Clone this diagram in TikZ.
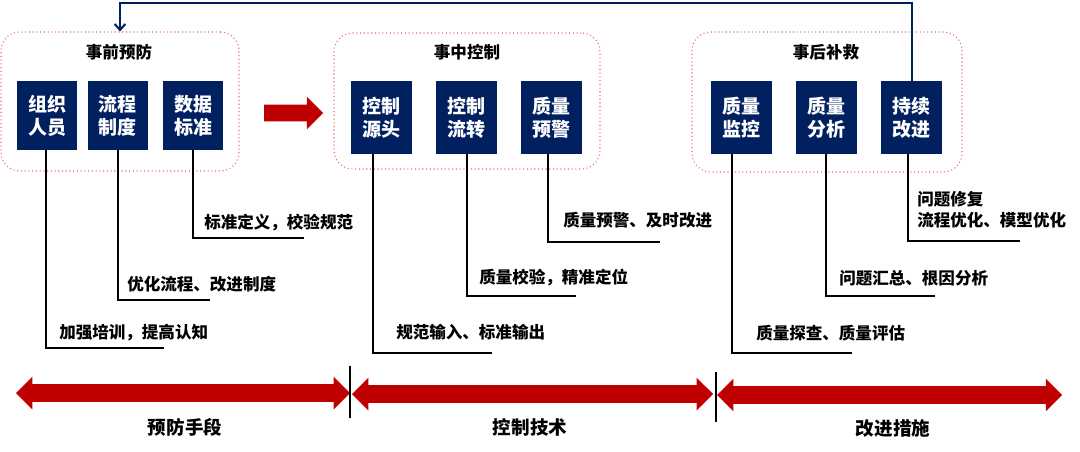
\documentclass[tikz,border=0pt]{standalone}
\usepackage{fontspec}
\setmainfont{Noto Sans CJK SC}
\usetikzlibrary{shapes.arrows,arrows.meta}
\definecolor{navy}{RGB}{0,32,96}
\definecolor{darkred}{RGB}{192,0,0}
\definecolor{pinkline}{RGB}{228,108,108}

\begin{document}
\begin{tikzpicture}[x=0.75pt, y=-0.75pt,
  grp/.style={rectangle, draw=pinkline, dotted, line width=0.8pt, rounded corners=14pt},
  box/.style={rectangle, fill=navy, text=white, align=center, inner sep=0pt,
    font=\fontsize{14.25}{17.25}\selectfont\bfseries},
  ttl/.style={font=\fontsize{12.4}{15}\selectfont\bfseries},
  lbl/.style={anchor=west, inner sep=0pt, align=left,
    font=\fontsize{12.4}{15.75}\selectfont\bfseries},
  con/.style={draw=black, line width=1.5pt},
  fb/.style={draw=navy, line width=1.5pt, -{Straight Barb[length=4.5pt,width=8pt]}},
  bar/.style={double arrow, fill=darkred, inner xsep=0pt, inner ysep=6.4pt,
    double arrow head extend=5.6pt},
  seg/.style={font=\fontsize{13.9}{16}\selectfont\bfseries}]
\useasboundingbox (0,0) rectangle (1080,451);

% three stages
\node[grp, minimum width=178.5pt, minimum height=104.25pt] (g1) at (120,101.5) {};
\node[grp, minimum width=199.5pt, minimum height=102pt] (g2) at (467,101) {};
\node[grp, minimum width=202.5pt, minimum height=105pt] (g3) at (827,102) {};
\node[ttl] (t1) at (119,52) {事前预防};
\node[ttl] (t2) at (467,52) {事中控制};
\node[ttl] (t3) at (826,52) {事后补救};

\node[box, minimum width=45pt, minimum height=51.75pt] (b11) at (47,115.5) {组织\\人员};
\node[box, minimum width=45pt, minimum height=51.75pt] (b12) at (117.5,115.5) {流程\\制度};
\node[box, minimum width=45pt, minimum height=51.75pt] (b13) at (193,115.5) {数据\\标准};
\node[box, minimum width=45.75pt, minimum height=54.75pt] (b21) at (381.5,117.5) {控制\\源头};
\node[box, minimum width=45.75pt, minimum height=54.75pt] (b22) at (466.5,117.5) {控制\\流转};
\node[box, minimum width=45.75pt, minimum height=54.75pt] (b23) at (551.5,117.5) {质量\\预警};
\node[box, minimum width=45.75pt, minimum height=54.75pt] (b31) at (741,117.5) {质量\\监控};
\node[box, minimum width=45.75pt, minimum height=54.75pt] (b32) at (826,117.5) {质量\\分析};
\node[box, minimum width=45.75pt, minimum height=54.75pt] (b33) at (911.5,117.5) {持续\\改进};

\node[single arrow, fill=darkred, inner xsep=0pt, inner ysep=6pt,
  single arrow head extend=6pt, minimum height=44.25pt] (go) at (289.5,113) {};

% feedback
\coordinate (top) at (500,3);
\draw[fb] (b33.north) |- (top) -| (g1.north);

% labels
\node[lbl] (l11) at (59,333) {加强培训，提高认知};
\node[lbl] (l12) at (127,284) {优化流程、改进制度};
\node[lbl] (l13) at (204,223) {标准定义，校验规范};
\node[lbl] (l21) at (396,332) {规范输入、标准输出};
\node[lbl] (l22) at (479,278) {质量校验，精准定位};
\node[lbl] (l23) at (563,220) {质量预警、及时改进};
\node[lbl] (l31) at (756,333) {质量探查、质量评估};
\node[lbl] (l32) at (839,278) {问题汇总、根因分析};
\node[lbl] (l33) at (917,210) {问题修复\\流程优化、模型优化};

\coordinate (k11) at (46,348);  \coordinate (e11) at (164,348);
\coordinate (k12) at (118,300); \coordinate (e12) at (210,300);
\coordinate (k13) at (193,238); \coordinate (e13) at (304,238);
\coordinate (k21) at (373,353); \coordinate (e21) at (492,353);
\coordinate (k22) at (467,296); \coordinate (e22) at (576,296);
\coordinate (k23) at (548,242); \coordinate (e23) at (660,242);
\coordinate (k31) at (732,353); \coordinate (e31) at (852,353);
\coordinate (k32) at (826,296); \coordinate (e32) at (935,296);
\coordinate (k33) at (908,241); \coordinate (e33) at (1020,241);
\draw[con] (k11 |- b11.south) -- (k11) -- (e11);
\draw[con] (k12 |- b12.south) -- (k12) -- (e12);
\draw[con] (k13 |- b13.south) -- (k13) -- (e13);
\draw[con] (k21 |- b21.south) -- (k21) -- (e21);
\draw[con] (k22 |- b22.south) -- (k22) -- (e22);
\draw[con] (k23 |- b23.south) -- (k23) -- (e23);
\draw[con] (k31 |- b31.south) -- (k31) -- (e31);
\draw[con] (k32 |- b32.south) -- (k32) -- (e32);
\draw[con] (k33 |- b33.south) -- (k33) -- (e33);

% bottom bars
\node[bar, minimum height=250.5pt] (a1) at (183,393) {};
\node[bar, minimum height=270.75pt] (a2) at (532.5,394) {};
\node[bar, minimum height=258.75pt] (a3) at (889.5,395) {};
\draw[line width=1.2pt] (350,366) -- (350,418);
\draw[line width=1.2pt] (716,372) -- (716,422);
\node[seg] (s1) at (185,427) {预防手段};
\node[seg] (s2) at (530,427) {控制技术};
\node[seg] (s3) at (893,428) {改进措施};
\end{tikzpicture}
\end{document}
